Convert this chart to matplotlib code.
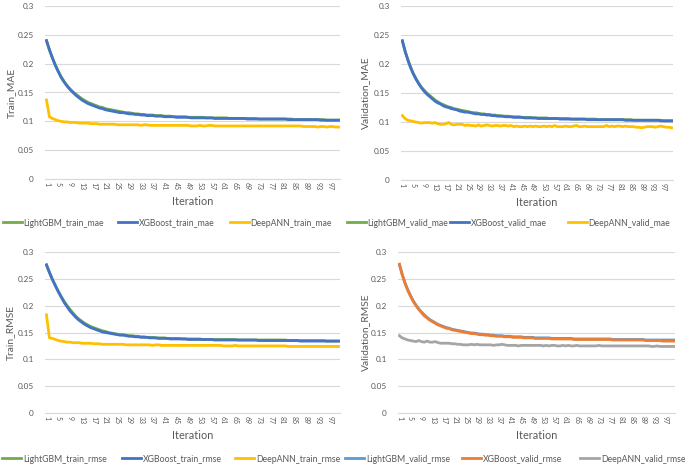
import matplotlib
matplotlib.use("Agg")
import matplotlib.pyplot as plt
import numpy as np

plt.rcParams["font.family"] = ["Lato", "DejaVu Sans"]

# iterations 1..100
iterations = np.arange(1, 101)

# ---- Train MAE ----
xgb_train_mae = [
    .240, .224, .210, .197, .186, .176, .168, .161, .155, .150,
    .145, .141, .137, .134, .131, .129, .127, .125, .123, .122,
    .120, .119, .118, .117, .116, .115, .115, .114, .113, .113,
    .112, .112, .111, .111, .110, .110, .110, .109, .109, .109,
    .108, .108, .108, .108, .107, .107, .107, .107, .107, .106,
    .106, .106, .106, .106, .106, .106, .106, .105, .105, .105,
    .105, .105, .105, .105, .105, .105, .105, .105, .104, .104,
    .104, .104, .104, .104, .104, .104, .104, .104, .104, .104,
    .104, .104, .103, .103, .103, .103, .103, .103, .103, .103,
    .103, .103, .103, .102, .102, .102, .102, .102, .102, .102,
]
lgbm_train_mae = [
    .240, .224, .210, .198, .187, .177, .169, .162, .156, .151,
    .147, .143, .139, .136, .133, .131, .129, .127, .125, .124,
    .122, .121, .120, .119, .118, .117, .116, .115, .115, .114,
    .113, .113, .112, .112, .111, .111, .111, .110, .110, .110,
    .109, .109, .109, .108, .108, .108, .108, .108, .107, .107,
    .107, .107, .107, .107, .106, .106, .106, .106, .106, .106,
    .106, .106, .105, .105, .105, .105, .105, .105, .105, .105,
    .105, .105, .104, .104, .104, .104, .104, .104, .104, .104,
    .104, .104, .104, .104, .103, .103, .103, .103, .103, .103,
    .103, .103, .103, .103, .103, .102, .102, .102, .102, .102,
]
ann_train_mae = [
    .137, .108, .105, .103, .101, .100, .099, .099, .098, .098,
    .098, .097, .097, .097, .097, .096, .096, .096, .095, .095,
    .095, .095, .095, .095, .094, .094, .094, .094, .094, .094,
    .094, .094, .093, .094, .094, .093, .093, .093, .093, .093,
    .093, .093, .093, .093, .093, .093, .093, .093, .093, .092,
    .092, .092, .093, .092, .092, .093, .093, .092, .092, .092,
    .092, .092, .092, .092, .092, .092, .092, .092, .092, .092,
    .092, .092, .092, .092, .092, .092, .092, .092, .092, .092,
    .092, .092, .092, .092, .092, .092, .092, .091, .091, .091,
    .091, .091, .090, .091, .091, .090, .091, .091, .090, .090,
]

# ---- Validation MAE ----
xgb_valid_mae = [
    .240, .222, .207, .194, .183, .174, .166, .159, .153, .148,
    .144, .140, .136, .133, .131, .128, .126, .125, .123, .122,
    .121, .119, .118, .117, .117, .116, .115, .114, .114, .113,
    .113, .112, .112, .111, .111, .110, .110, .110, .109, .109,
    .109, .108, .108, .108, .108, .107, .107, .107, .107, .107,
    .106, .106, .106, .106, .106, .106, .106, .106, .105, .105,
    .105, .105, .105, .105, .105, .105, .105, .105, .104, .104,
    .104, .104, .104, .104, .104, .104, .104, .104, .104, .104,
    .104, .104, .103, .103, .103, .103, .103, .103, .103, .103,
    .103, .103, .103, .103, .103, .102, .102, .102, .102, .102,
]
lgbm_valid_mae = [
    .240, .222, .208, .195, .184, .175, .167, .160, .155, .150,
    .146, .142, .138, .135, .132, .130, .128, .126, .125, .123,
    .122, .121, .120, .119, .118, .117, .116, .116, .115, .114,
    .114, .113, .113, .112, .112, .111, .111, .110, .110, .110,
    .109, .109, .109, .109, .108, .108, .108, .108, .107, .107,
    .107, .107, .107, .107, .106, .106, .106, .106, .106, .106,
    .106, .106, .105, .105, .105, .105, .105, .105, .105, .105,
    .105, .105, .104, .104, .104, .104, .104, .104, .104, .104,
    .104, .104, .104, .104, .104, .103, .103, .103, .103, .103,
    .103, .103, .103, .103, .103, .103, .102, .102, .102, .102,
]
ann_valid_mae = [
    .111, .106, .103, .102, .101, .100, .099, .098, .099, .099,
    .099, .098, .099, .097, .096, .096, .097, .099, .096, .095,
    .096, .096, .096, .094, .095, .094, .094, .093, .095, .093,
    .094, .095, .094, .093, .094, .094, .093, .094, .094, .093,
    .094, .092, .093, .092, .092, .093, .092, .093, .092, .093,
    .092, .092, .093, .092, .093, .092, .094, .092, .092, .092,
    .093, .092, .092, .093, .094, .092, .092, .093, .092, .092,
    .092, .092, .092, .092, .092, .094, .092, .093, .092, .093,
    .093, .092, .093, .092, .092, .092, .091, .091, .090, .091,
    .092, .092, .092, .091, .092, .093, .092, .091, .091, .090,
]

# ---- Train RMSE ----
xgb_train_rmse = [
    .276, .262, .249, .237, .226, .216, .206, .198, .190, .184,
    .178, .173, .169, .165, .162, .159, .157, .155, .153, .151,
    .150, .149, .148, .147, .146, .145, .145, .144, .143, .143,
    .142, .142, .141, .141, .141, .140, .140, .140, .139, .139,
    .139, .139, .138, .138, .138, .138, .138, .138, .137, .137,
    .137, .137, .137, .137, .137, .137, .137, .136, .136, .136,
    .136, .136, .136, .136, .136, .136, .136, .136, .136, .136,
    .136, .136, .135, .135, .135, .135, .135, .135, .135, .135,
    .135, .135, .135, .135, .135, .135, .134, .134, .134, .134,
    .134, .134, .134, .134, .134, .134, .134, .134, .134, .134,
]
lgbm_train_rmse = [
    .276, .262, .249, .238, .227, .217, .208, .200, .193, .186,
    .180, .175, .171, .167, .164, .161, .159, .157, .155, .153,
    .152, .150, .149, .148, .147, .146, .146, .145, .144, .144,
    .143, .143, .142, .142, .141, .141, .141, .140, .140, .140,
    .140, .139, .139, .139, .139, .139, .138, .138, .138, .138,
    .138, .138, .138, .137, .137, .137, .137, .137, .137, .137,
    .137, .137, .137, .137, .137, .136, .136, .136, .136, .136,
    .136, .136, .136, .136, .136, .136, .136, .136, .136, .136,
    .136, .136, .135, .135, .135, .135, .135, .135, .135, .135,
    .135, .135, .135, .135, .135, .134, .134, .134, .134, .134,
]
ann_train_rmse = [
    .183, .140, .139, .137, .135, .134, .133, .132, .132, .131,
    .131, .131, .130, .130, .130, .130, .129, .129, .129, .128,
    .128, .128, .128, .128, .128, .128, .128, .127, .127, .127,
    .127, .127, .127, .127, .127, .127, .126, .127, .127, .126,
    .126, .126, .126, .126, .126, .126, .126, .126, .126, .126,
    .126, .126, .126, .126, .126, .126, .126, .126, .126, .126,
    .125, .125, .125, .125, .126, .125, .125, .125, .125, .125,
    .125, .125, .125, .125, .125, .125, .125, .125, .125, .125,
    .125, .125, .124, .124, .124, .124, .124, .124, .124, .124,
    .124, .124, .124, .124, .124, .124, .124, .124, .124, .124,
]

# ---- Validation RMSE ----
xgb_valid_rmse = [
    .277, .258, .242, .229, .218, .208, .200, .193, .187, .181,
    .177, .173, .170, .167, .164, .162, .160, .158, .157, .155,
    .154, .153, .152, .151, .150, .149, .148, .148, .147, .146,
    .146, .145, .145, .144, .144, .143, .143, .143, .142, .142,
    .142, .141, .141, .141, .141, .140, .140, .140, .140, .139,
    .139, .139, .139, .139, .139, .138, .138, .138, .138, .138,
    .138, .138, .138, .137, .137, .137, .137, .137, .137, .137,
    .137, .137, .137, .137, .137, .137, .137, .136, .136, .136,
    .136, .136, .136, .136, .136, .136, .136, .136, .136, .135,
    .135, .135, .135, .135, .135, .134, .134, .134, .134, .134,
]
lgbm_valid_rmse = [
    .277, .259, .243, .230, .219, .209, .201, .194, .188, .183,
    .178, .174, .171, .168, .165, .163, .161, .159, .158, .156,
    .155, .154, .153, .152, .151, .150, .149, .149, .148, .147,
    .147, .146, .146, .145, .145, .144, .144, .144, .143, .143,
    .143, .142, .142, .142, .142, .141, .141, .141, .141, .140,
    .140, .140, .140, .140, .140, .139, .139, .139, .139, .139,
    .139, .139, .139, .138, .138, .138, .138, .138, .138, .138,
    .138, .138, .138, .138, .138, .138, .138, .137, .137, .137,
    .137, .137, .137, .137, .137, .137, .137, .137, .137, .136,
    .136, .136, .136, .136, .136, .136, .136, .136, .136, .136,
]
ann_valid_rmse = [
    .144, .140, .138, .136, .135, .134, .133, .135, .133, .132,
    .134, .132, .132, .133, .131, .130, .130, .130, .130, .129,
    .129, .128, .128, .127, .127, .127, .128, .127, .128, .127,
    .127, .127, .127, .127, .126, .127, .127, .128, .127, .126,
    .126, .126, .126, .125, .126, .126, .126, .126, .126, .126,
    .126, .126, .125, .126, .125, .126, .126, .125, .125, .126,
    .125, .126, .125, .125, .126, .125, .125, .125, .125, .125,
    .125, .125, .126, .125, .125, .125, .125, .125, .125, .125,
    .125, .125, .125, .125, .125, .125, .125, .125, .125, .125,
    .125, .124, .124, .125, .124, .124, .124, .124, .124, .124,
]

GREEN = "#70AD47"
BLUE = "#4472C4"
GOLD = "#FFC000"
LBLUE = "#5B9BD5"
ORANGE = "#ED7D31"
GRAY = "#A5A5A5"
TXT = "#595959"
GRID = "#D9D9D9"

W, H = 685, 466

fig = plt.figure(figsize=(W / 100, H / 100), dpi=100)
renderer = fig.canvas.get_renderer()


def fit_size(text, width_px):
    """Font size (pt) that makes `text` about width_px wide."""
    t = fig.text(0, 0, text, fontsize=10)
    w = t.get_window_extent(renderer).width
    t.remove()
    return 10 * width_px / w


TICK_SIZE = fit_size("0.25", 16)
XLAB_SIZE = fit_size("Iteration", 41)
YLAB_SIZE = fit_size("Train_MAE", 50)
LEG_TOP = fit_size("LightGBM_train_mae", 80)
LEG_BOT = fit_size("LightGBM_train_rmse", 84)


def px_axes(x0, x1, ytop, ybot):
    """Add axes from pixel box (origin at top-left)."""
    return fig.add_axes([x0 / W, 1 - ybot / H, (x1 - x0) / W, (ybot - ytop) / H])


def style_axes(ax, ylabel, label_x):
    ax.set_xlim(0.5, 100.5)
    ax.set_ylim(0, 0.3)
    ax.set_yticks(np.arange(0, 0.301, 0.05))
    ax.set_yticklabels(["0", "0.05", "0.1", "0.15", "0.2", "0.25", "0.3"])
    ax.set_xticks(iterations[::4])
    ax.set_xticklabels([str(i) for i in iterations[::4]], rotation=-90)
    ax.grid(axis="y", color=GRID, linewidth=0.8)
    ax.set_axisbelow(True)
    for s in ["top", "right", "left"]:
        ax.spines[s].set_visible(False)
    ax.spines["bottom"].set_color(GRID)
    ax.spines["bottom"].set_linewidth(0.8)
    ax.tick_params(axis="y", length=0, pad=8, labelsize=TICK_SIZE, labelcolor=TXT)
    ax.tick_params(axis="x", length=0, pad=2.5, labelsize=5, labelcolor=TXT)
    ax.set_xlabel("Iteration", fontsize=XLAB_SIZE, color=TXT, labelpad=4)
    ax.set_ylabel(ylabel, fontsize=YLAB_SIZE, color=TXT, va="center")
    # put the y label centre at a given figure pixel x
    bb = ax.get_position()
    ax.yaxis.set_label_coords((label_x / W - bb.x0) / bb.width, 0.5)


def legend_entry(handle, x, y, size):
    # one legend per entry so each starts where the reference has it
    fig.legend(
        handles=[handle],
        loc="center left",
        bbox_to_anchor=(x / W, 1 - y / H),
        frameon=False,
        fontsize=size,
        labelcolor=TXT,
        handlelength=2.2,
        handletextpad=0.2,
        borderaxespad=0,
        borderpad=0,
    )


ax1 = px_axes(45, 340, 6, 179)
ax2 = px_axes(401, 673, 6, 180)
ax3 = px_axes(45, 340, 252, 413)
ax4 = px_axes(398, 675, 252, 413)

lw = 2.0
h1 = ax1.plot(iterations, lgbm_train_mae, color=GREEN, lw=lw, label="LightGBM_train_mae")
h1 += ax1.plot(iterations, xgb_train_mae, color=BLUE, lw=lw, label="XGBoost_train_mae")
h1 += ax1.plot(iterations, ann_train_mae, color=GOLD, lw=lw, label="DeepANN_train_mae")
style_axes(ax1, "Train_MAE", 12)

h2 = ax2.plot(iterations, lgbm_valid_mae, color=GREEN, lw=lw, label="LightGBM_valid_mae")
h2 += ax2.plot(iterations, xgb_valid_mae, color=BLUE, lw=lw, label="XGBoost_valid_mae")
h2 += ax2.plot(iterations, ann_valid_mae, color=GOLD, lw=lw, label="DeepANN_valid_mae")
style_axes(ax2, "Validation_MAE", 366)

h3 = ax3.plot(iterations, lgbm_train_rmse, color=GREEN, lw=lw, label="LightGBM_train_rmse")
h3 += ax3.plot(iterations, xgb_train_rmse, color=BLUE, lw=lw, label="XGBoost_train_rmse")
h3 += ax3.plot(iterations, ann_train_rmse, color=GOLD, lw=lw, label="DeepANN_train_rmse")
style_axes(ax3, "Train_RMSE", 11)

h4 = ax4.plot(iterations, lgbm_valid_rmse, color=LBLUE, lw=lw, label="LightGBM_valid_rmse")
h4 += ax4.plot(iterations, xgb_valid_rmse, color=ORANGE, lw=lw, label="XGBoost_valid_rmse")
h4 += ax4.plot(iterations, ann_valid_rmse, color=GRAY, lw=lw, label="DeepANN_valid_rmse")
style_axes(ax4, "Validation_RMSE", 366)

for h, x in zip(h1 + h2, [3, 118, 230, 347, 450, 568]):
    legend_entry(h, x, 223, LEG_TOP)
for h, x in zip(h3 + h4, [2, 122, 235, 345, 462, 580]):
    legend_entry(h, x, 459, LEG_BOT)

fig.savefig("out.png", dpi=100)
